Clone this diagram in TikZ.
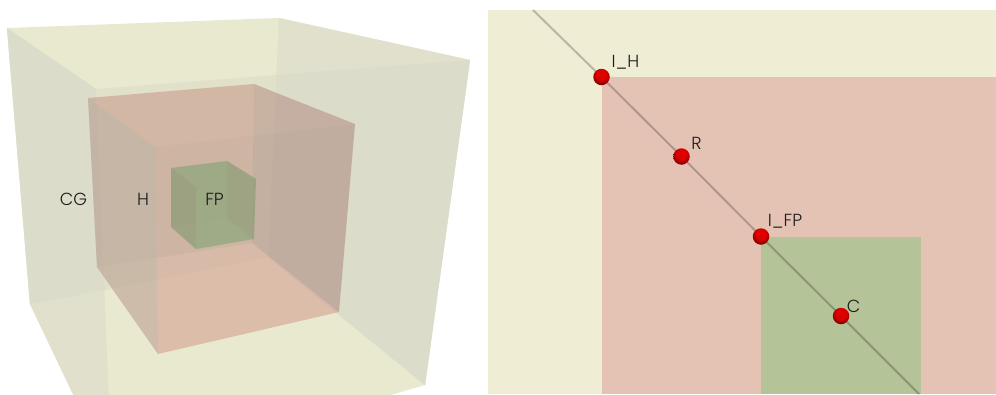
\documentclass[tikz,border=0pt]{standalone}
\usepackage{fontspec}
\setmainfont{Poppins}[UprightFont=* Light]
\definecolor{ytop}{HTML}{E9E9CF}
\definecolor{ybot}{HTML}{E8E8CF}
\definecolor{gside}{HTML}{E0E0CD}
\definecolor{gdeep}{HTML}{DBDCC9}
\definecolor{pinkc}{HTML}{D09A8C}
\definecolor{pinkleft}{HTML}{8CB8A8}
\definecolor{pinkright}{HTML}{5D7C85}
\definecolor{greenc}{HTML}{8EA87C}
\definecolor{greenside}{HTML}{967D78}
\definecolor{panelY}{HTML}{F0EDD5}
\definecolor{panelP}{HTML}{E5C3B4}
\definecolor{panelG}{HTML}{B4C498}
\definecolor{ink}{HTML}{1C1C1C}
\pgfdeclareradialshading{redball}{\pgfpoint{0bp}{10bp}}{
  color(0bp)=(red!90!black);
  color(17bp)=(red!84!black);
  color(26bp)=(red!62!black);
  color(35bp)=(red!36!black);
  color(100bp)=(red!36!black)}
\tikzset{
  lbl/.style={text=ink,font=\fontsize{17.5pt}{18pt}\selectfont,inner sep=0pt,anchor=center},
  facep/.style={fill=pinkc,fill opacity=.55},
  facepl/.style={fill=pinkleft,fill opacity=.18},
  facepr/.style={fill=pinkright,fill opacity=.12},
  seam/.style={fill=pinkright,fill opacity=.035},
  faceg/.style={fill=greenc,fill opacity=.72},
  sideg/.style={fill=greenside,fill opacity=.16},
  ballnode/.style={circle,minimum size=16.5pt,inner sep=0pt,shading=redball},
  diag/.style={line width=2.2pt,black,opacity=.18},
  diagcore/.style={line width=.8pt,black,opacity=.08}
}
\begin{document}
\begin{tikzpicture}[x=1pt,y=-1pt]
\useasboundingbox (0,0) rectangle (996,394);
\fill[white] (0,0) rectangle (996,394);
\begin{scope}
\clip (0,0) rectangle (480,394);
% outer cube
\fill[ytop] (7,28)--(279,18)--(470,60)--(425,385)--(112,476)--(30,304)--cycle;
\fill[gside] (7,28)--(96,89)--(112,476)--(30,304)--cycle;
\fill[gside] (279,18)--(470,60)--(425,385)--(268,257)--cycle;
\fill[gdeep] (7,28)--(96,89)--(105,290)--(30,304)--cycle;
\fill[gdeep] (276.5,75)--(470,60)--(425,385)--(268,257)--cycle;
\fill[ybot!97!black] (96,89)--(276.5,75)--(268,257)--(105,290)--cycle;
% pink cube
\fill[facep] (88,98)--(254,84)--(355,124)--(339,312)--(158,354)--(97,267)--cycle;
\fill[facepl] (88,98)--(155,147)--(158,354)--(97,267)--cycle;
\fill[facepr] (254,84)--(355,124)--(339,312)--(252,243)--cycle;
\fill[seam] (88,98)--(254,84)--(252,243)--(97,267)--cycle;
\fill[seam] (155,147)--(355,124)--(339,312)--(252,243)--(157,258)--cycle;
% green cube
\fill[faceg] (171,168)--(227,161)--(256,179)--(254,239)--(196,249)--(171,227)--cycle;
\fill[sideg] (171,168)--(196,187)--(196,249)--(171,227)--cycle;
\fill[sideg] (227,161)--(256,179)--(254,239)--(227,218)--cycle;
\fill[greenside,fill opacity=.04] (171,168)--(227,161)--(227,218)--(171,227)--cycle;
\end{scope}
\node[lbl] (cg) at (73.5,199.5) {CG};
\node[lbl] (h) at (143,199.5) {H};
\node[lbl] (fp) at (214.5,199.5) {FP};
% right panel
\fill[panelY] (488,10) rectangle (996,394);
\fill[panelP] (602,77) rectangle (996,394);
\fill[panelG] (761,237) rectangle (921,394);
\coordinate (diagA) at (533,10);
\coordinate (diagB) at (919,394);
\coordinate (pih) at (601.5,77);
\coordinate (pr) at (681.5,156.5);
\coordinate (pifp) at (761,236.5);
\coordinate (pc) at (841,316);
\draw[diag] (diagA) -- (pih) -- (pr) -- (pifp) -- (pc) -- (diagB);
\draw[diagcore] (diagA) -- (pih) -- (pr) -- (pifp) -- (pc) -- (diagB);
\node[ballnode] (ih) at (pih) {};
\node[ballnode] (r) at (pr) {};
\node[ballnode] (ifp) at (pifp) {};
\node[ballnode] (c) at (pc) {};
\node[lbl] (lih) at (625.5,62) {I\_H};
\node[lbl] (lr) at (696.5,143) {R};
\node[lbl] (lifp) at (785,221) {I\_FP};
\node[lbl] (lc) at (853.5,306) {C};
\end{tikzpicture}
\end{document}
